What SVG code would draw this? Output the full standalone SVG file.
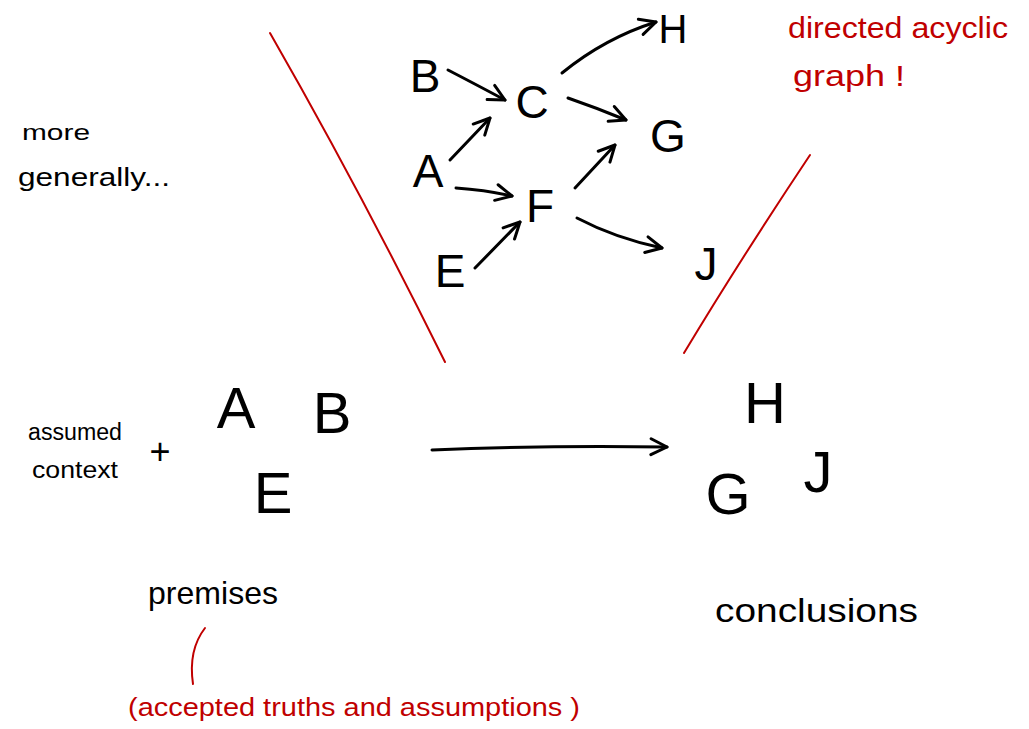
<svg xmlns="http://www.w3.org/2000/svg" width="1029" height="729" viewBox="0 0 1029 729">
<style>
.ink{fill:#000;font-family:"Liberation Sans","DejaVu Sans",sans-serif}
.red{fill:#c00000;font-family:"Liberation Sans","DejaVu Sans",sans-serif}
.node{font-size:46px;text-anchor:middle}
.big{font-size:58px;text-anchor:middle}
.edge{fill:none;stroke:#000;stroke-width:3;stroke-linecap:round;stroke-linejoin:round}
.rl{fill:none;stroke:#c00000;stroke-width:2;stroke-linecap:round}
</style>
<defs>
<marker id="ah" viewBox="0 0 20 20" refX="18" refY="10" markerWidth="20" markerHeight="20" markerUnits="userSpaceOnUse" orient="auto">
<path d="M2,2 L18,10 L2,18" fill="none" stroke="#000" stroke-width="3" stroke-linecap="round" stroke-linejoin="round"/>
</marker>
</defs>
<rect width="1029" height="729" fill="#fff"/>
<g id="dag-nodes">
<g id="nB"><text class="ink node" x="425" y="92">B</text></g>
<g id="nC"><text class="ink node" x="532" y="118">C</text></g>
<g id="nA"><text class="ink node" x="428" y="187">A</text></g>
<g id="nF"><text class="ink node" x="540" y="222">F</text></g>
<g id="nE"><text class="ink node" x="450" y="287">E</text></g>
<g id="nH"><text class="ink" x="673" y="43" font-size="40" text-anchor="middle">H</text></g>
<g id="nG"><text class="ink node" x="668" y="152">G</text></g>
<g id="nJ"><text class="ink node" x="706" y="280">J</text></g>
</g>
<g id="connectors">
<path class="edge" d="M448,70 Q475,84 505,100" marker-end="url(#ah)"/>
<path class="edge" d="M450,160 L490,118" marker-end="url(#ah)"/>
<path class="edge" d="M456,188 Q485,190 512,196" marker-end="url(#ah)"/>
<path class="edge" d="M475,268 L520,222" marker-end="url(#ah)"/>
<path class="edge" d="M562,73 Q605,38 656,22" marker-end="url(#ah)"/>
<path class="edge" d="M568,98 Q597,108 626,120" marker-end="url(#ah)"/>
<path class="edge" d="M575,188 L615,145" marker-end="url(#ah)"/>
<path class="edge" d="M577,218 Q615,238 662,248" marker-end="url(#ah)"/>
<path class="edge" d="M432,450 Q550,445 667,447" marker-end="url(#ah)"/>
</g>
<g id="dividers">
<path class="rl" d="M270,33 Q360,190 445,362"/>
<path class="rl" d="M810,155 Q740,260 684,353"/>
<path class="rl" d="M205,628 Q188,650 193,684"/>
</g>
<g id="labels">
<text class="ink" x="22" y="140" font-size="22" textLength="68" lengthAdjust="spacingAndGlyphs">more</text>
<text class="ink" x="18" y="186" font-size="26" textLength="152" lengthAdjust="spacingAndGlyphs">generally...</text>
<text class="ink" x="28" y="440" font-size="23" textLength="94" lengthAdjust="spacingAndGlyphs">assumed</text>
<text class="ink" x="32" y="478" font-size="23" textLength="86" lengthAdjust="spacingAndGlyphs">context</text>
<text class="ink" x="160" y="464" font-size="36" text-anchor="middle">+</text>
<text class="red" x="788" y="38" font-size="30" textLength="220" lengthAdjust="spacingAndGlyphs">directed acyclic</text>
<text class="red" x="793" y="86" font-size="30" textLength="112" lengthAdjust="spacingAndGlyphs">graph !</text>
<text class="ink" x="148" y="604" font-size="32" textLength="130" lengthAdjust="spacingAndGlyphs">premises</text>
<text class="ink" x="715" y="622" font-size="34" textLength="203" lengthAdjust="spacingAndGlyphs">conclusions</text>
<text class="red" x="128" y="716" font-size="26" textLength="452" lengthAdjust="spacingAndGlyphs">(accepted truths and assumptions )</text>
</g>
<g id="premise-nodes">
<g id="pA"><text class="ink big" x="236" y="428">A</text></g>
<g id="pB"><text class="ink big" x="332" y="433">B</text></g>
<g id="pE"><text class="ink big" x="273" y="513">E</text></g>
</g>
<g id="conclusion-nodes">
<g id="cH"><text class="ink big" x="765" y="423">H</text></g>
<g id="cG"><text class="ink big" x="728" y="514">G</text></g>
<g id="cJ"><text class="ink big" x="818" y="492">J</text></g>
</g>
</svg>
